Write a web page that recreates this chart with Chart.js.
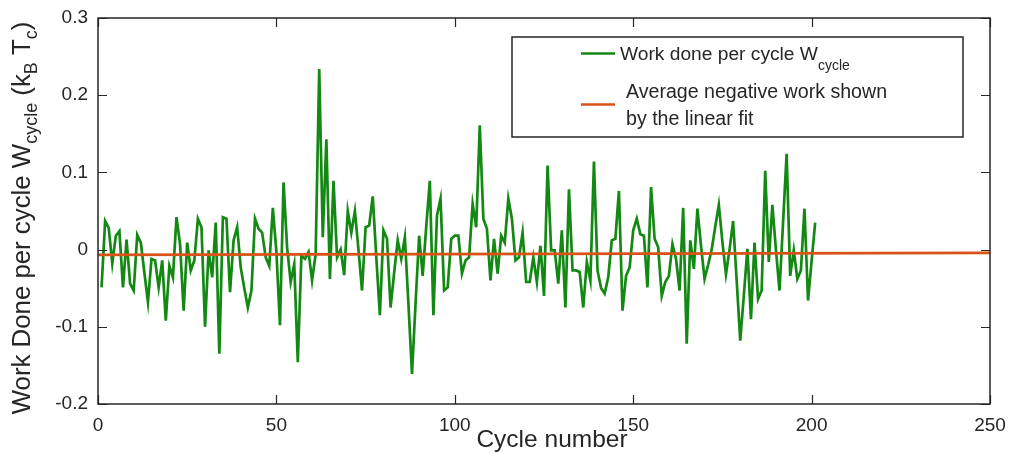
<!DOCTYPE html>
<html>
<head>
<meta charset="utf-8">
<script src="https://cdn.jsdelivr.net/npm/chart.js@4.4.1/dist/chart.umd.min.js"></script>
<style>
  html, body { margin: 0; padding: 0; background: #ffffff; }
  #wrap { width: 1011px; height: 454px; }
</style>
</head>
<body>
<div id="wrap"><canvas id="chart" width="1011" height="454"></canvas></div>
<script>
// Work done in each cycle (k_B T_c), cycles 1..201
const workPerCycle = [
  -0.049, 0.037, 0.028, -0.018, 0.018, 0.024, -0.049, 0.013, -0.044, -0.053,
  0.019, 0.009, -0.030, -0.068, -0.012, -0.014, -0.049, -0.014, -0.092, -0.021,
  -0.036, 0.042, 0.007, -0.079, 0.009, -0.027, -0.014, 0.040, 0.029, -0.100,
  -0.001, -0.036, 0.035, -0.135, 0.042, 0.040, -0.055, 0.012, 0.029, -0.023,
  -0.050, -0.075, -0.053, 0.040, 0.027, 0.022, -0.010, -0.021, 0.054, -0.003,
  -0.098, 0.087, 0.003, -0.042, -0.019, -0.146, -0.008, -0.012, -0.003, -0.040,
  -0.006, 0.234, 0.016, 0.143, -0.038, 0.089, -0.010, 0.000, -0.033, 0.050,
  0.022, 0.050, 0.000, -0.053, 0.029, 0.031, 0.069, -0.010, -0.085, 0.025,
  0.014, -0.075, -0.030, 0.012, -0.012, 0.016, -0.070, -0.161, -0.070, 0.018,
  -0.034, 0.030, 0.089, -0.085, 0.044, 0.066, -0.053, -0.049, 0.014, 0.018,
  0.018, -0.031, -0.014, -0.010, 0.059, 0.029, 0.161, 0.040, 0.027, -0.040,
  0.014, -0.031, 0.018, 0.009, 0.066, 0.040, -0.014, -0.010, 0.022, -0.042,
  -0.042, -0.010, -0.042, 0.005, -0.060, 0.109, -0.001, -0.001, -0.044, 0.025,
  -0.075, 0.078, -0.027, -0.027, -0.029, -0.075, -0.016, -0.040, 0.114, -0.027,
  -0.050, -0.057, -0.036, 0.012, 0.014, 0.076, -0.079, -0.034, -0.023, 0.025,
  0.040, 0.020, 0.018, -0.049, 0.081, 0.014, 0.003, -0.060, -0.042, -0.034,
  0.007, -0.012, -0.053, 0.054, -0.122, 0.012, -0.025, 0.053, 0.005, -0.038,
  -0.020, 0.000, 0.030, 0.058, 0.010, -0.032, 0.000, 0.037, -0.040, -0.118,
  -0.060, 0.001, -0.090, 0.009, -0.064, -0.053, 0.102, -0.016, 0.058, 0.000,
  -0.053, 0.035, 0.124, -0.034, -0.001, -0.038, -0.027, 0.053, -0.066, -0.015,
  0.035
];
const firstCycle = 1;

// Linear fit line (end points)
const fitCycles = [0, 250];
const fitWork = [-0.0068, -0.0043];

// Axis ticks
const xTicks = [0, 50, 100, 150, 200, 250];
const xTickLabels = ['0', '50', '100', '150', '200', '250'];
const yTicks = [-0.2, -0.1, 0, 0.1, 0.2, 0.3];
const yTickLabels = ['-0.2', '-0.1', '0', '0.1', '0.2', '0.3'];

const FONT = '"Liberation Sans", Arial, Helvetica, sans-serif';
const AXIS_COLOR = '#262626';
const GREEN = '#138813';
const ORANGE = '#D95319';

function drawRich(ctx, parts, x, y) {
  // draws a run of normal / subscript text pieces starting at x on baseline y
  let cx = x;
  for (const p of parts) {
    ctx.font = p.size + 'px ' + FONT;
    ctx.fillText(p.t, cx, y + (p.dy || 0));
    cx += ctx.measureText(p.t).width;
  }
  return cx;
}
function richWidth(ctx, parts) {
  let w = 0;
  for (const p of parts) { ctx.font = p.size + 'px ' + FONT; w += ctx.measureText(p.t).width; }
  return w;
}

const decorPlugin = {
  id: 'decor',
  beforeDraw(chart) {
    const ctx = chart.ctx;
    ctx.save();
    ctx.fillStyle = '#ffffff';
    ctx.fillRect(0, 0, chart.width, chart.height);
    ctx.restore();
  },
  afterDraw(chart) {
    const ctx = chart.ctx;
    const a = chart.chartArea;
    const xs = chart.scales.x, ys = chart.scales.y;
    ctx.save();
    // axes box
    ctx.strokeStyle = AXIS_COLOR;
    ctx.lineWidth = 1.5;
    ctx.strokeRect(a.left, a.top, a.right - a.left, a.bottom - a.top);
    // inward tick marks on all four sides
    const tl = 9;
    ctx.beginPath();
    xTicks.forEach(v => {
      const px = Math.round(xs.getPixelForValue(v)) + 0.5;
      ctx.moveTo(px, a.bottom); ctx.lineTo(px, a.bottom - tl);
      ctx.moveTo(px, a.top); ctx.lineTo(px, a.top + tl);
    });
    yTicks.forEach(v => {
      const py = Math.round(ys.getPixelForValue(v)) + 0.5;
      ctx.moveTo(a.left, py); ctx.lineTo(a.left + tl, py);
      ctx.moveTo(a.right, py); ctx.lineTo(a.right - tl, py);
    });
    ctx.lineWidth = 1.2;
    ctx.stroke();

    // x axis title
    ctx.fillStyle = AXIS_COLOR;
    ctx.textBaseline = 'alphabetic';
    ctx.textAlign = 'center';
    ctx.font = '24.5px ' + FONT;
    ctx.fillText('Cycle number', 552, 447);

    // y axis title with subscripts
    ctx.textAlign = 'left';
    const yParts = [
      { t: 'Work Done per cycle W', size: 25.8 },
      { t: 'cycle', size: 18, dy: 7 },
      { t: ' (k', size: 25.8 },
      { t: 'B', size: 18, dy: 7 },
      { t: ' T', size: 25.8 },
      { t: 'c', size: 18, dy: 7 },
      { t: ')', size: 25.8 }
    ];
    ctx.save();
    ctx.translate(30, 218);
    ctx.rotate(-Math.PI / 2);
    const w = richWidth(ctx, yParts);
    drawRich(ctx, yParts, -w / 2, 0);
    ctx.restore();

    // legend
    const lg = { left: 512, top: 37, right: 963, bottom: 137 };
    ctx.fillStyle = '#ffffff';
    ctx.fillRect(lg.left, lg.top, lg.right - lg.left, lg.bottom - lg.top);
    ctx.strokeStyle = AXIS_COLOR;
    ctx.lineWidth = 1.5;
    ctx.strokeRect(lg.left, lg.top, lg.right - lg.left, lg.bottom - lg.top);

    const ds = chart.data.datasets;
    ctx.lineWidth = 2.6;
    ctx.strokeStyle = ds[0].borderColor;
    ctx.beginPath(); ctx.moveTo(581, 53.5); ctx.lineTo(615, 53.5); ctx.stroke();
    ctx.strokeStyle = ds[1].borderColor;
    ctx.beginPath(); ctx.moveTo(581, 104.5); ctx.lineTo(615, 104.5); ctx.stroke();

    ctx.fillStyle = AXIS_COLOR;
    drawRich(ctx, [
      { t: 'Work done per cycle W', size: 19.2 },
      { t: 'cycle', size: 14, dy: 10 }
    ], 620, 60);
    drawRich(ctx, [{ t: 'Average negative work shown', size: 19.6 }], 626, 98);
    drawRich(ctx, [{ t: 'by the linear fit', size: 19.6 }], 626, 125);
    ctx.restore();
  }
};

new Chart(document.getElementById('chart'), {
  type: 'line',
  data: {
    datasets: [
      {
        label: 'Work done per cycle W_cycle',
        data: workPerCycle.map((v, i) => ({ x: firstCycle + i, y: v })),
        borderColor: GREEN,
        borderWidth: 2.7,
        pointRadius: 0,
        tension: 0,
        order: 2
      },
      {
        label: 'Average negative work shown by the linear fit',
        data: fitCycles.map((c, i) => ({ x: c, y: fitWork[i] })),
        borderColor: ORANGE,
        borderWidth: 2.7,
        pointRadius: 0,
        tension: 0,
        order: 1
      }
    ]
  },
  options: {
    responsive: false,
    devicePixelRatio: 1,
    animation: false,
    events: [],
    layout: { padding: { left: 0, top: 18, right: 21, bottom: 0 } },
    plugins: { legend: { display: false }, tooltip: { enabled: false } },
    scales: {
      x: {
        type: 'linear',
        min: 0, max: 250,
        afterBuildTicks: s => { s.ticks = xTicks.map(v => ({ value: v })); },
        afterFit: s => { s.height = 50; s.paddingLeft = 0; s.paddingRight = 0; },
        ticks: {
          callback: (v, i) => xTickLabels[i],
          font: { family: FONT, size: 19 },
          color: AXIS_COLOR,
          padding: 10,
          maxRotation: 0,
          autoSkip: false
        },
        grid: { display: false, drawTicks: false },
        border: { display: false }
      },
      y: {
        type: 'linear',
        min: -0.2, max: 0.3,
        afterBuildTicks: s => { s.ticks = yTicks.map(v => ({ value: v })); },
        afterFit: s => { s.width = 98; s.paddingTop = 0; s.paddingBottom = 0; },
        ticks: {
          callback: (v, i) => yTickLabels[i],
          font: { family: FONT, size: 19 },
          color: AXIS_COLOR,
          padding: 10,
          autoSkip: false
        },
        grid: { display: false, drawTicks: false },
        border: { display: false }
      }
    }
  },
  plugins: [decorPlugin]
});
</script>
</body>
</html>
